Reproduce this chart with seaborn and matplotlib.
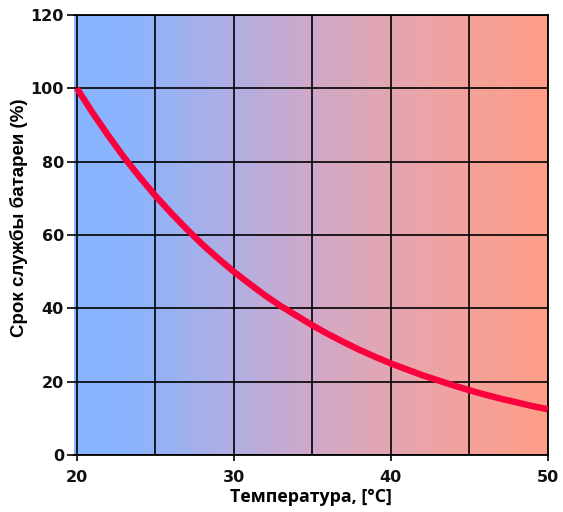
import matplotlib
matplotlib.use('Agg')
import matplotlib.pyplot as plt
import numpy as np
import pandas as pd
import seaborn as sns
from matplotlib.colors import LinearSegmentedColormap

# данные (шаг 1 °C)
temperature = [20, 21, 22, 23, 24, 25, 26, 27, 28, 29, 30, 31, 32, 33, 34, 35,
               36, 37, 38, 39, 40, 41, 42, 43, 44, 45, 46, 47, 48, 49, 50]
life = [100, 93.3, 87.1, 81.2, 75.8, 70.7, 66, 61.6, 57.4, 53.6, 50, 46.7, 43.5, 40.6, 38, 35.4,
        33, 30.8, 28.7, 26.8, 25, 23.4, 21.8, 20.4, 19, 17.7, 16.5, 15.4, 14.4, 13.4, 12.5]
x_ticks = [20, 30, 40, 50]
x_minor = [25, 35, 45]
y_ticks = [0, 20, 40, 60, 80, 100, 120]

df = pd.DataFrame({'t': temperature, 'life': life})

sns.set_style('white')
fig = plt.figure(figsize=(5.63, 5.12), dpi=100)
ax = fig.add_axes([0.131, 0.111, 0.842, 0.86])

# фон - градиент от синего к лососевому
cmap = LinearSegmentedColormap.from_list('bg', [
    (0.0, '#88b4ff'), (0.12, '#8bb4fd'), (0.35, '#b4aee0'),
    (0.5, '#d0a9c9'), (0.75, '#eda4a6'), (1.0, '#ff9e86')])
grad = np.linspace(0, 1, 256).reshape(1, -1)
ax.imshow(grad, cmap=cmap, aspect='auto', extent=[19.8, 50, 0, 120], zorder=0)

sns.lineplot(data=df, x='t', y='life', ax=ax, color='#fa003c', linewidth=4.6,
             zorder=3, solid_capstyle='butt')

ax.set_xlim(19.8, 50)
ax.set_ylim(0, 120)
ax.set_xticks(x_ticks)
ax.set_xticks(x_minor, minor=True)
ax.set_yticks(y_ticks)
ax.grid(True, which='major', color='black', linewidth=1.2, zorder=1)
ax.xaxis.grid(True, which='minor', color='black', linewidth=1.2)
for l in ax.get_xgridlines() + ax.get_ygridlines():
    l.set_zorder(1)

for s in ['top', 'right', 'bottom']:
    ax.spines[s].set_color('black')
    ax.spines[s].set_linewidth(1.3)
ax.spines['left'].set_visible(False)

ax.tick_params(axis='y', which='major', direction='out', length=5, width=1.2,
               color='black', left=True, pad=2, labelfontfamily='DejaVu Sans')
ax.tick_params(axis='x', which='major', direction='out', length=4, width=1.2,
               color='black', bottom=True, pad=7, labelfontfamily='DejaVu Sans')
ax.tick_params(axis='x', which='minor', length=0)

for lab in ax.get_xticklabels() + ax.get_yticklabels():
    lab.set_fontweight('bold')
    lab.set_fontsize(11.5)
    lab.set_color('#111111')

ax.set_xlabel('Температура, [°C]', fontfamily='Open Sans', fontweight='bold',
              fontsize=12.8, labelpad=2, color='black')
ax.set_ylabel('Срок службы батареи (%)', fontfamily='Liberation Sans',
              fontweight='bold', fontsize=13.5, color='black')
ax.yaxis.set_label_coords(-0.097, 0.54)

fig.savefig('out.png', dpi=100)
